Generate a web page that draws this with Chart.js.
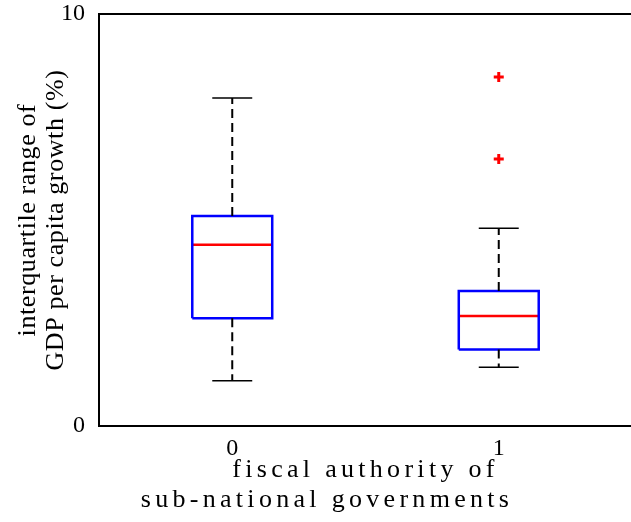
<!DOCTYPE html>
<html>
<head>
<meta charset="utf-8">
<script src="https://cdn.jsdelivr.net/npm/chart.js@4.4.0/dist/chart.umd.min.js"></script>
<style>
    html, body { margin: 0; padding: 0; background: #fff; overflow: hidden; }
    canvas { display: block; }
</style>
</head>
<body>
<canvas id="boxChart" width="640" height="522"></canvas>
<script>
// box plot summary
const categories = ['0', '1'];
const positions = [0, 1];
const whiskerLow = [1.10, 1.43];
const lowerQuartile = [2.62, 1.86];
const medians = [4.40, 2.67];
const upperQuartile = [5.10, 3.28];
const whiskerHigh = [7.96, 4.80];
const outliers = [[], [6.48, 8.47]];
const yTicks = [0, 10];

const boxHalf = 0.15;   // half box width, in x units
const capHalf = 0.075;  // half whisker cap width

function segment(points, color, width, dash) {
    return {
        data: points,
        showLine: true,
        borderColor: color,
        borderWidth: width,
        borderDash: dash || [],
        pointRadius: 0,
        fill: false
    };
}

const datasets = [];
positions.forEach(function (x, i) {
    // dashed whiskers
    datasets.push(segment([{ x: x, y: upperQuartile[i] }, { x: x, y: whiskerHigh[i] }], '#000', 2, [9, 5]));
    datasets.push(segment([{ x: x, y: lowerQuartile[i] }, { x: x, y: whiskerLow[i] }], '#000', 2, [9, 5]));
    // caps
    datasets.push(segment([{ x: x - capHalf, y: whiskerHigh[i] }, { x: x + capHalf, y: whiskerHigh[i] }], '#000', 1.5));
    datasets.push(segment([{ x: x - capHalf, y: whiskerLow[i] }, { x: x + capHalf, y: whiskerLow[i] }], '#000', 1.5));
    // box
    datasets.push(segment([
        { x: x - boxHalf, y: lowerQuartile[i] },
        { x: x + boxHalf, y: lowerQuartile[i] },
        { x: x + boxHalf, y: upperQuartile[i] },
        { x: x - boxHalf, y: upperQuartile[i] },
        { x: x - boxHalf, y: lowerQuartile[i] }
    ], '#0000ff', 2.5));
    // median
    datasets.push(segment([{ x: x - boxHalf, y: medians[i] }, { x: x + boxHalf, y: medians[i] }], '#ff0000', 2.5));
    // outliers
    if (outliers[i].length) {
        datasets.push({
            data: outliers[i].map(v => ({ x: x, y: v })),
            showLine: false,
            pointStyle: 'cross',
            pointRadius: 5,
            borderColor: '#ff0000',
            borderWidth: 3
        });
    }
});

// letter spacing on the axis titles, like the original
function spaceOut(box, spacing) {
    if (!box || box._spaced) return;
    const orig = box.drawTitle ? 'drawTitle' : 'draw';
    const fn = box[orig];
    box[orig] = function () {
        this.ctx.save();
        this.ctx.letterSpacing = spacing;
        fn.apply(this, arguments);
        this.ctx.restore();
    };
    box._spaced = true;
}
const spacedTitle = {
    id: 'spacedTitle',
    beforeDraw(chart) {
        spaceOut(chart.scales.x, '4.3px');
        spaceOut(chart.scales.y, '0.6px');
        spaceOut(chart.titleBlock, '4.3px');
    }
};

Chart.defaults.font.family = "'Liberation Serif', 'Times New Roman', serif";
Chart.defaults.color = '#000';

const ctx = document.getElementById('boxChart').getContext('2d');
new Chart(ctx, {
    type: 'scatter',
    data: { datasets: datasets },
    plugins: [spacedTitle],
    options: {
        responsive: false,
        animation: false,
        layout: { padding: { left: 14, top: 0, right: 0, bottom: 0 } },
        plugins: {
            legend: { display: false },
            tooltip: { enabled: false },
            // second line of the x label, centred on the figure like the original
            title: {
                display: true,
                position: 'bottom',
                text: 'sub-national governments',
                color: '#000',
                font: { size: 26, weight: 'normal', lineHeight: 1.15 },
                padding: { top: 0, bottom: 7 }
            }
        },
        scales: {
            x: {
                type: 'linear',
                min: -0.5,
                max: 1.5,
                grid: { display: false },
                border: { display: true, color: '#000', width: 2 },
                afterBuildTicks: function (axis) {
                    axis.ticks = positions.map(v => ({ value: v }));
                },
                afterFit: function (axis) {
                    axis.height = 59;
                    axis.paddingLeft = 0;
                    axis.paddingRight = 0;
                },
                ticks: {
                    autoSkip: false,
                    maxRotation: 0,
                    padding: 0,
                    font: { size: 24 },
                    callback: function (v) { return categories[positions.indexOf(v)]; }
                },
                title: {
                    display: true,
                    text: 'fiscal authority of',
                    font: { size: 26, lineHeight: 1.15 },
                    padding: { top: 0, bottom: 0 }
                }
            },
            x2: {
                type: 'linear',
                position: 'top',
                min: -0.5,
                max: 1.5,
                grid: { display: false },
                ticks: { display: false },
                border: { display: true, color: '#000', width: 2 },
                afterFit: function (axis) { axis.height = 0; }
            },
            y: {
                min: 0,
                max: 10,
                grid: { display: false },
                border: { display: true, color: '#000', width: 2 },
                afterBuildTicks: function (axis) {
                    axis.ticks = yTicks.map(v => ({ value: v }));
                },
                afterFit: function (axis) {
                    axis.width = 85;
                    axis.paddingTop = 14;
                    axis.paddingBottom = 0;
                },
                ticks: { padding: 6, font: { size: 24 } },
                title: {
                    display: true,
                    text: ['interquartile range of', 'GDP per capita growth (%)'],
                    font: { size: 26, lineHeight: 1.08 },
                    padding: { top: 0, bottom: 0 }
                }
            }
        }
    }
});
</script>
</body>
</html>
